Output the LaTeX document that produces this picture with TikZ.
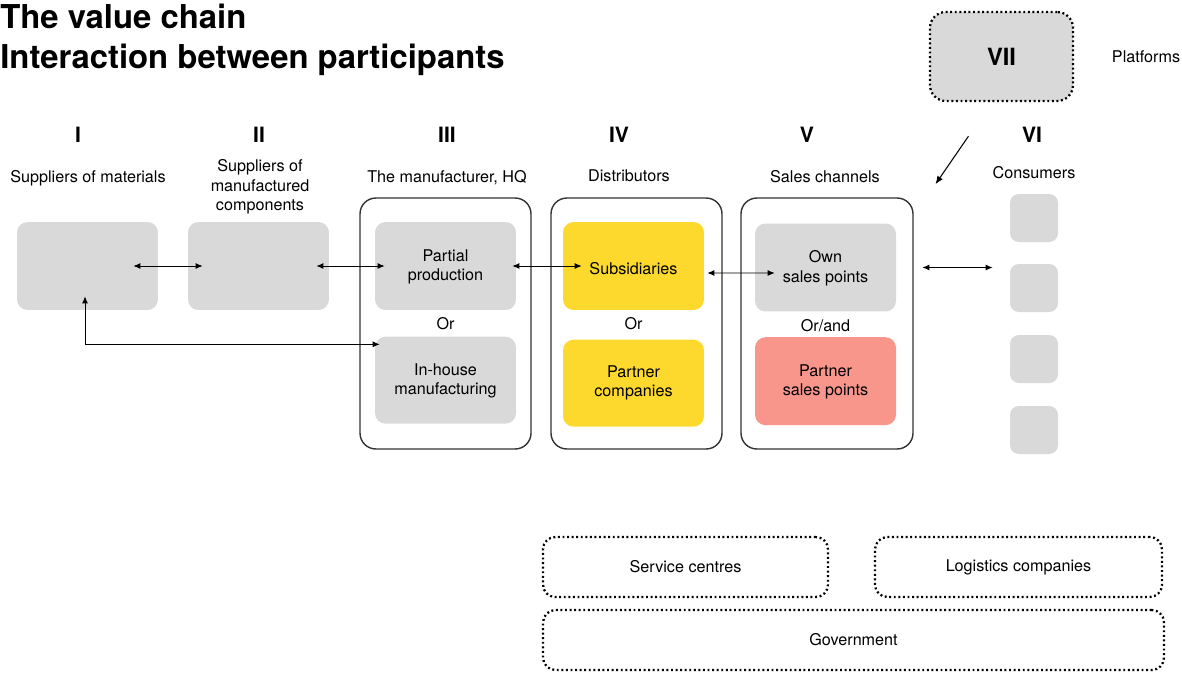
\documentclass[tikz,border=0pt]{standalone}
\usepackage{fontspec}
\setmainfont{TeX Gyre Heros}
\usepackage{xcolor}
\usetikzlibrary{arrows.meta,positioning,calc}
\definecolor{tilegray}{HTML}{D9D9D9}
\definecolor{subyellow}{HTML}{FDD92E}
\definecolor{salesred}{HTML}{F8968C}

\begin{document}
\begin{tikzpicture}[
  x=0.02cm, y=-0.02cm,
  font=\fontsize{9.2}{11}\selectfont,
  tile/.style={rectangle, rounded corners=6pt, fill=tilegray, align=center, minimum width=2.82cm, minimum height=1.76cm},
  subtile/.style={tile, fill=subyellow},
  salestile/.style={tile, fill=salesred},
  group/.style={rectangle, rounded corners=9pt, draw=black!80, line width=0.8pt, minimum width=3.42cm, minimum height=5.02cm},
  cons/.style={rectangle, rounded corners=5pt, fill=tilegray, minimum size=0.96cm},
  dotbox/.style={rectangle, rounded corners=7pt, draw, line width=1.3pt, dash pattern=on 1.1pt off 1.5pt, align=center, minimum height=1.2cm},
  num/.style={font=\fontsize{12}{14}\selectfont\bfseries},
  hdr/.style={align=center},
  arr/.style={{Latex[length=1.4mm,width=1.2mm]}-{Latex[length=1.4mm,width=1.2mm]}, line width=0.5pt},
  arrone/.style={-{Latex[length=1.6mm,width=1.3mm]}, line width=0.6pt}
]
\useasboundingbox (0,0) rectangle (1182,673);

\node[anchor=west, inner sep=0pt, align=left, font=\fontsize{18.7}{23}\selectfont\bfseries] (title) at (0,40) {The value chain\\Interaction between participants};

\node[dotbox, fill=tilegray, minimum width=2.86cm, minimum height=1.78cm, rounded corners=9pt, font=\fontsize{13.5}{15}\selectfont\bfseries] (vii) at (1001.5,56.5) {VII};
\node (platf) at (1146,57) {Platforms};

\node[num] (n1) at (78,135) {I};
\node[num] (n2) at (259,135) {II};
\node[num] (n3) at (447,135) {III};
\node[num] (n4) at (619,135) {IV};
\node[num] (n5) at (807,135) {V};
\node[num] (n6) at (1032,135) {VI};

\node[hdr] (h1) at (88,178) {Suppliers of materials};
\node[hdr] (h2) at (260,187) {Suppliers of\\manufactured\\components};
\node[hdr] (h3) at (447,178) {The manufacturer, HQ};
\node[hdr] (h4) at (629,176) {Distributors};
\node[hdr] (h5) at (825,177) {Sales channels};
\node[hdr] (h6) at (1034,173) {Consumers};

\node[group] (grp3) at (445.5,323.5) {};
\node[group] (grp4) at (636.5,323.5) {};
\node[group, minimum width=3.44cm] (grp5) at (827,323.5) {};

\node[tile] (b1) at (87.5,266) {};
\node[tile] (b2) at (258.5,266) {};

\node[tile] (partial) at (445.5,266) {\strut Partial\\production};
\node[tile, minimum height=1.74cm, below=0.52cm of partial] (inhouse) {\strut In-house\\manufacturing};
\node at ($(partial.south)!0.5!(inhouse.north)$) (or3) {Or};

\node[subtile, text height=10pt, text depth=0pt] (subs) at (633.5,266) {Subsidiaries};
\node[subtile, minimum height=1.74cm, below=0.58cm of subs] (partner) {Partner\\companies};
\node at ($(subs.south)!0.45!(partner.north)$) (or4) {Or};

\node[tile] (own) at (825.5,267.5) {\strut Own\\sales points};
\node[salestile, below=0.5cm of own] (psales) {\strut Partner\\sales points};
\node at ($(own.south)!0.55!(psales.north)$) (or5) {Or/and};

\foreach \i/\yy in {1/218,2/288,3/359,4/430}
  \node[cons] (c\i) at (1034,\yy) {};

\node[dotbox, minimum width=5.7cm] (service) at (685.5,567) {Service centres};
\node[dotbox, minimum width=5.74cm] (logist) at (1018.5,567) {Logistics companies};
\node[dotbox, minimum width=12.42cm] (govt) at (853.5,640) {Government};

\draw[arr] ($(b1.east)+(-25,0)$) -- ($(b2.west)+(15,0)$);
\draw[arr] ($(b2.east)+(-13,0)$) -- ($(partial.west)+(10,0)$);
\draw[arr] ($(partial.east)+(-4,0)$) -- ($(subs.west)+(19,0)$);
\draw[arr] ($(subs.east)+(3,7)$) -- ($(own.west)+(20,5.5)$);
\draw[arr] ($(own.east)+(26,0)$) -- ($(c1.west |- own.east)+(-17,0)$);
\draw[arr] ($(b1.south)+(-2.5,-14)$) |- ($(inhouse.north west)+(5,8)$);
\draw[arrone] ($(vii.south)+(-33,34)$) -- ($(vii.south)+(-66,82)$);
\end{tikzpicture}
\end{document}
